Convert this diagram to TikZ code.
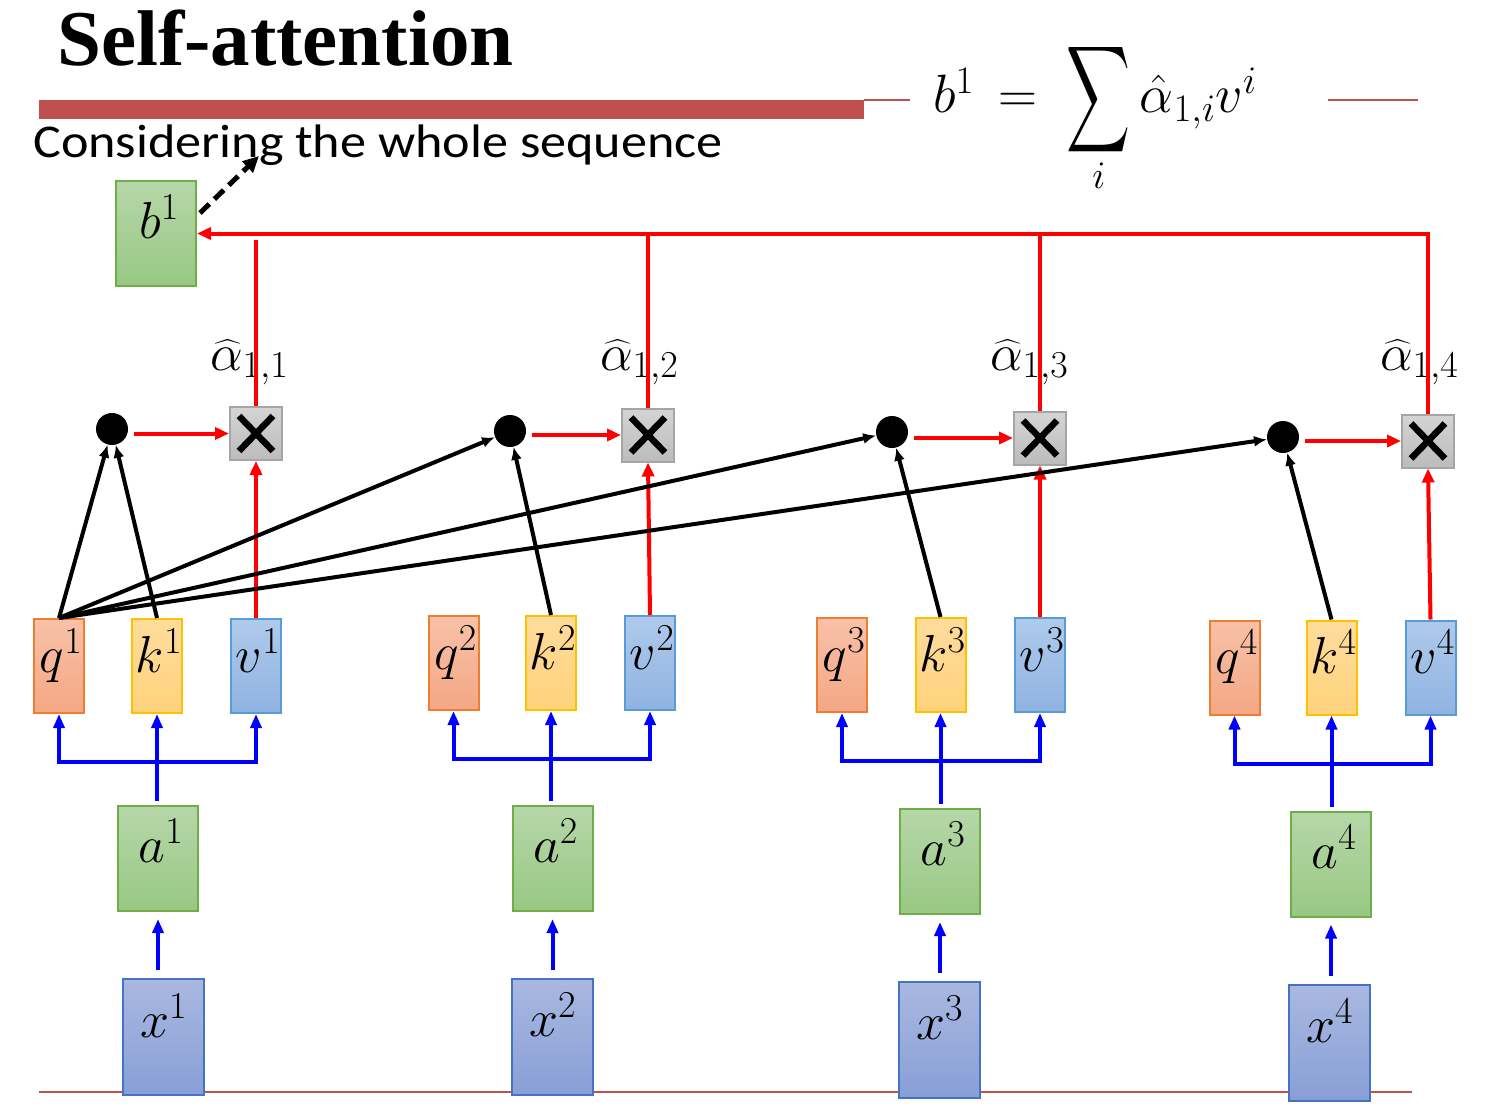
\RequirePackage{fix-cm}
\documentclass[tikz,border=0pt]{standalone}
\usepackage{amsmath}
\usepackage{exscale}
\usepackage{fontspec}
\usepackage{graphicx}
\setmainfont{Liberation Serif}
\newfontfamily\calibri{Carlito}
\usetikzlibrary{arrows.meta}
\DeclareMathSizes{52}{52}{38}{29}
\DeclareMathSizes{54}{54}{39}{30}

\definecolor{qfillA}{HTML}{F8C1A8}\definecolor{qfillB}{HTML}{F4A784}\definecolor{qedge}{HTML}{ED7D31}
\definecolor{kfillA}{HTML}{FFDC9C}\definecolor{kfillB}{HTML}{FFD27C}\definecolor{kedge}{HTML}{FFC000}
\definecolor{vfillA}{HTML}{AFCAEB}\definecolor{vfillB}{HTML}{8FB3E2}\definecolor{vedge}{HTML}{5B9BD5}
\definecolor{gfillA}{HTML}{B6D7A8}\definecolor{gfillB}{HTML}{98C884}\definecolor{gedge}{HTML}{70AD47}
\definecolor{xfillA}{HTML}{A9B8E0}\definecolor{xfillB}{HTML}{889FD6}\definecolor{xedge}{HTML}{4472C4}
\definecolor{mfillA}{HTML}{D4D4D4}\definecolor{mfillB}{HTML}{BCBCBC}\definecolor{medge}{HTML}{A5A5A5}
\definecolor{barred}{HTML}{C0504D}

\tikzset{
  basebox/.style={draw, line width=2pt, inner sep=0pt, minimum width=50pt, minimum height=94pt},
  qbox/.style={basebox, draw=qedge, top color=qfillA, bottom color=qfillB},
  kbox/.style={basebox, draw=kedge, top color=kfillA, bottom color=kfillB},
  vbox/.style={basebox, draw=vedge, top color=vfillA, bottom color=vfillB},
  gbox/.style={basebox, draw=gedge, top color=gfillA, bottom color=gfillB, minimum width=80pt, minimum height=105pt},
  xbox/.style={basebox, draw=xedge, top color=xfillA, bottom color=xfillB, minimum width=81pt, minimum height=116pt},
  mbox/.style={basebox, draw=medge, top color=mfillA, bottom color=mfillB, minimum width=52pt, minimum height=53pt},
  dotnode/.style={circle, fill=black, minimum size=32pt, inner sep=0pt},
  lab/.style={anchor=base, inner sep=0pt, font=\fontsize{52}{58}\selectfont},
  alab/.style={anchor=base west, inner sep=0pt, font=\fontsize{52}{58}\selectfont},
  redln/.style={red, line width=4pt},
  redarr/.style={red, line width=4pt, -{Triangle[length=14pt,width=12pt]}},
  blkarr/.style={black, line width=4pt, -{Latex[length=13pt,width=11pt]}},
  bluearr/.style={blue, line width=4pt, -{Triangle[length=14pt,width=11pt]}},
  bluebr/.style={blue, line width=4pt, {Triangle[length=14pt,width=11pt]}-{Triangle[length=14pt,width=11pt]}},
  xmark/.style={black, line width=6.5pt},
}

\newcommand{\drawcross}[1]{%
  \draw[xmark] ([shift={(10,10)}]#1.north west) -- ([shift={(-10,-10)}]#1.south east);
  \draw[xmark] ([shift={(-10,10)}]#1.north east) -- ([shift={(10,-10)}]#1.south west);}

\begin{document}
\begin{tikzpicture}[x=1pt,y=-1pt]
\useasboundingbox[fill=white] (0,0) rectangle (1498,1110);

% header
\node[anchor=base west, inner sep=0pt, font=\fontsize{79}{90}\selectfont\bfseries] (title) at (57,66) {Self-attention};
\fill[barred] (39,100) rectangle (864,119);
\draw[barred, line width=2pt] (864,100) -- (910,100);
\draw[barred, line width=2pt] (1328,100) -- (1418,100);
\node[anchor=base west, inner sep=0pt, font=\calibri\fontsize{47}{54}\selectfont] (sub) at (33,158) {\scalebox{1.11}[1]{Considering the whole sequence}};
\node[anchor=base west, inner sep=0pt, font=\fontsize{54}{60}\selectfont] (eq) at (933,113)
  {$b^1\, =\; \mathop{\vcenter{\hbox{\resizebox{64pt}{100pt}{$\displaystyle\sum$}}}}\limits_i \hat{\alpha}_{1,i} v^i$};

% bottom line
\draw[barred, line width=2pt] (39,1092) -- (1412,1092);

% boxes
\node[gbox] (b1) at (156,233.5) {};
\node[lab] (b1t) at ([shift={(3,5)}]b1.center) {$b^1$};

\node[qbox] (q1) at (59,666) {};
\node[kbox] (k1) at (157,666) {};
\node[vbox] (v1) at (256,666) {};
\node[qbox] (q2) at (453.5,663) {};
\node[kbox] (k2) at (551,663) {};
\node[vbox] (v2) at (650,663) {};
\node[qbox] (q3) at (842,665) {};
\node[kbox] (k3) at (940.5,665) {};
\node[vbox] (v3) at (1040,665) {};
\node[qbox] (q4) at (1234.5,667.5) {};
\node[kbox] (k4) at (1331.5,667.5) {};
\node[vbox] (v4) at (1430.5,667.5) {};

\foreach \i in {1,2,3,4}{
  \node[lab] (q\i t) at ([shift={(2,6)}]q\i.center) {$q^{\i}$};
  \node[lab] (k\i t) at ([shift={(2,6)}]k\i.center) {$k^{\i}$};
  \node[lab] (v\i t) at ([shift={(2,6)}]v\i.center) {$v^{\i}$};
}

\node[gbox] (a1) at (158,858.5) {};
\node[gbox] (a2) at (552.5,858.5) {};
\node[gbox] (a3) at (940,861.5) {};
\node[gbox] (a4) at (1331,864) {};
\node[xbox] (x1) at (163.5,1037) {};
\node[xbox] (x2) at (552.5,1036.5) {};
\node[xbox] (x3) at (939.5,1039.5) {};
\node[xbox] (x4) at (1329.5,1042.5) {};
\foreach \i in {1,2,3,4}{
  \node[lab] (a\i t) at ([shift={(3,4)}]a\i.center) {$a^{\i}$};
  \node[lab] (x\i t) at ([shift={(0,0)}]x\i.center) {$x^{\i}$};
}

% multiply boxes and dots
\node[mbox] (m1) at (256,433.5) {};
\node[mbox] (m2) at (648,435) {};
\node[mbox] (m3) at (1040,438) {};
\node[mbox] (m4) at (1428,441) {};
\drawcross{m1}\drawcross{m2}\drawcross{m3}\drawcross{m4}
\node[dotnode] (d1) at (112,429) {};
\node[dotnode] (d2) at (510,431) {};
\node[dotnode] (d3) at (892,432) {};
\node[dotnode] (d4) at (1283,437) {};

% alpha labels
\node[alab] (al1) at (210,370) {$\widehat{\alpha}_{1,1}$};
\node[alab] (al2) at (600,370) {$\widehat{\alpha}_{1,2}$};
\node[alab] (al3) at (990,370) {$\widehat{\alpha}_{1,3}$};
\node[alab] (al4) at (1380,370) {$\widehat{\alpha}_{1,4}$};

% red connections
\coordinate (r1top) at (256,240);
\foreach \i in {1,2,3,4}{
  \draw[redarr, shorten <=6pt] (m\i.west -| d\i.east) -- (m\i.west);
  \draw[redarr] (v\i.north) -- (m\i.south);
}
\draw[redln] (m1.north) -- (r1top);
\draw[redarr] (m4.north) |- (b1.east);
\draw[redln] (m2.north) -- (m2.north |- b1.east);
\draw[redln] (m3.north) -- (m3.north |- b1.east);

% black connections
\foreach \i in {1,2,3,4}{
  \draw[blkarr] (q1.north) -- (d\i);
  \draw[blkarr] (k\i.north) -- (d\i);
}

% dashed arrow
\coordinate (dashtip) at (259,156);
\draw[black, line width=5pt, dash pattern=on 13pt off 7pt, -{Triangle[length=16pt,width=15pt]}] ([shift={(3,33)}]b1.north east) -- (dashtip);

% blue connections
\coordinate (c1) at (158,762);
\coordinate (c2) at (552.5,759);
\coordinate (c3) at (941,761);
\coordinate (c4) at (1332,764);
\foreach \i in {1,2,3,4}{
  \draw[bluebr] (q\i.south) |- (c\i) -| (v\i.south);
  \draw[bluearr, shorten <=4pt] (a\i.north -| k\i.south) -- (k\i.south);
  \draw[bluearr, shorten <=8pt, shorten >=7pt] (x\i.north -| a\i.south) -- (a\i.south);
}
\end{tikzpicture}
\end{document}
